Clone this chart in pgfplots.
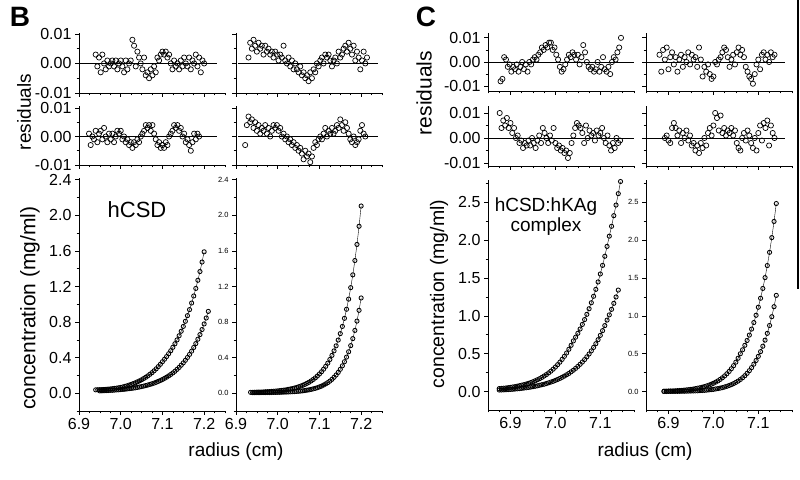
\documentclass[border=0pt]{standalone}
\usepackage{pgfplots}
\pgfplotsset{compat=1.18}
\usepackage{fontspec}
\setmainfont{Liberation Sans}
\begin{document}
\begin{tikzpicture}
\path[use as bounding box] (0pt,0pt) rectangle (800pt,479pt);
\pgfplotsset{
  every axis/.append style={
    scale only axis, width=146pt,
    axis x line*=bottom, axis y line*=left,
    axis line style={line width=0.8pt, black, -},
    every tick/.style={black, line width=0.7pt},
    tick align=outside,
    major tick length=4pt, minor tick length=2.5pt,
    clip=false, anchor=south west,
    scaled x ticks=false, scaled y ticks=false,
    /pgf/number format/assume math mode=true,
    /pgf/number format/fixed, /pgf/number format/fixed zerofill,
  },
  bx/.style={xmin=6.9, xmax=7.25, xtick={6.9,7.0,7.1,7.2}, minor xtick={6.925,6.95,6.975,7.025,7.05,7.075,7.125,7.15,7.175,7.225,7.25}},
  cx/.style={xmin=6.85, xmax=7.175, xtick={6.9,7.0,7.1}, minor xtick={6.85,6.875,6.925,6.95,6.975,7.025,7.05,7.075,7.125,7.15,7.175}},
  res/.style={xticklabels={}, ytick={-0.01,0,0.01}, minor ytick={-0.005,0.005}, yticklabel style={font=\fontsize{16}{16}\selectfont, /pgf/number format/precision=2}},
  resR/.style={xticklabels={}, ytick={-0.01,0,0.01}, minor ytick={-0.005,0.005}, yticklabels={}},
  mainx/.style={xticklabel style={font=\fontsize{16}{16}\selectfont, /pgf/number format/precision=1}},
  mainyL/.style={yticklabel style={font=\fontsize{16}{16}\selectfont, /pgf/number format/precision=1}},
  mainyR/.style={yticklabel style={font=\fontsize{7.5}{7.5}\selectfont, /pgf/number format/precision=1}},
  dot/.style={black, line width=0.7pt, only marks, mark=o, mark size=2.6pt},
  cur/.style={black, line width=0.4pt, mark=o, mark size=2.1pt, mark options={line width=0.85pt}},
  zl/.style={black, line width=0.8pt},
}
% ================= Panel B =================
\begin{axis}[bx,res,at={(79pt,386pt)},height=60pt,ymin=-0.01,ymax=0.0103]
\addplot[zl] coordinates {(6.9,0)(7.23,0)};
\addplot[dot] coordinates {(6.940,0.003)(6.944,-0.001)(6.948,0.002)(6.952,-0.003)(6.956,0.003)(6.960,0.000)(6.964,-0.002)(6.968,0.001)(6.972,-0.001)(6.976,0.000)(6.980,0.001)(6.984,-0.001)(6.988,0.001)(6.992,-0.002)(6.996,0.000)(7.000,0.001)(7.004,-0.001)(7.008,-0.003)(7.012,0.001)(7.016,-0.002)(7.020,0.000)(7.024,0.001)(7.028,0.008)(7.032,0.006)(7.036,-0.001)(7.040,0.004)(7.044,0.002)(7.048,0.000)(7.052,-0.002)(7.056,0.002)(7.060,-0.004)(7.064,-0.003)(7.068,-0.005)(7.072,-0.002)(7.076,-0.004)(7.080,-0.001)(7.084,-0.003)(7.088,0.002)(7.092,0.001)(7.096,0.003)(7.100,0.004)(7.104,0.003)(7.108,0.004)(7.112,0.002)(7.116,0.003)(7.120,0.000)(7.124,-0.002)(7.128,0.001)(7.132,-0.001)(7.136,0.000)(7.140,-0.002)(7.144,0.001)(7.148,-0.001)(7.152,0.002)(7.156,0.000)(7.160,-0.001)(7.164,0.002)(7.168,-0.002)(7.172,0.001)(7.176,0.000)(7.180,0.003)(7.184,-0.001)(7.188,0.002)(7.192,-0.003)(7.196,0.001)(7.200,0.000)};
\end{axis}
\begin{axis}[bx,resR,at={(236pt,386pt)},height=60pt,ymin=-0.01,ymax=0.0103]
\addplot[zl] coordinates {(6.905,0)(7.24,0)};
\addplot[dot] coordinates {(6.930,0.002)(6.934,0.007)(6.938,0.005)(6.942,0.008)(6.946,0.006)(6.950,0.004)(6.954,0.007)(6.958,0.005)(6.962,0.006)(6.966,0.003)(6.970,0.006)(6.974,0.004)(6.978,0.005)(6.982,0.003)(6.986,0.004)(6.990,0.002)(6.994,0.004)(6.998,0.003)(7.002,0.001)(7.006,0.003)(7.010,0.002)(7.014,0.006)(7.018,0.001)(7.022,0.000)(7.026,0.002)(7.030,-0.001)(7.034,0.001)(7.038,-0.002)(7.042,0.000)(7.046,-0.002)(7.050,-0.003)(7.054,-0.001)(7.058,-0.004)(7.062,-0.003)(7.066,-0.005)(7.070,-0.004)(7.074,-0.006)(7.078,-0.003)(7.082,-0.005)(7.086,-0.002)(7.090,-0.003)(7.094,0.000)(7.098,-0.001)(7.102,0.001)(7.106,0.002)(7.110,0.000)(7.114,0.003)(7.118,0.002)(7.122,0.003)(7.126,0.001)(7.130,-0.001)(7.134,0.001)(7.138,0.002)(7.142,0.000)(7.146,0.004)(7.150,0.002)(7.154,0.003)(7.158,0.005)(7.162,0.006)(7.166,0.004)(7.170,0.007)(7.174,0.005)(7.178,0.003)(7.182,0.006)(7.186,0.001)(7.190,0.004)(7.194,0.002)(7.198,-0.002)(7.202,0.001)(7.206,0.004)(7.210,0.000)(7.214,0.002)};
\end{axis}
\begin{axis}[bx,res,at={(79pt,314pt)},height=59pt,ymin=-0.01,ymax=0.0107]
\addplot[zl] coordinates {(6.9,0)(7.23,0)};
\addplot[dot] coordinates {(6.924,0.001)(6.928,-0.003)(6.932,0.000)(6.936,-0.001)(6.940,0.002)(6.944,-0.002)(6.948,0.001)(6.952,0.002)(6.956,-0.001)(6.960,0.003)(6.964,0.000)(6.968,-0.002)(6.972,0.001)(6.976,-0.001)(6.980,0.001)(6.984,-0.002)(6.988,0.000)(6.992,0.002)(6.996,0.001)(7.000,0.002)(7.004,-0.001)(7.008,0.000)(7.012,-0.002)(7.016,-0.001)(7.020,-0.003)(7.024,-0.002)(7.028,-0.004)(7.032,-0.002)(7.036,-0.003)(7.040,-0.001)(7.044,-0.002)(7.048,0.000)(7.052,0.001)(7.056,0.002)(7.060,0.004)(7.064,0.003)(7.068,0.004)(7.072,0.002)(7.076,0.004)(7.080,0.001)(7.084,-0.001)(7.088,-0.003)(7.092,-0.002)(7.096,-0.004)(7.100,-0.003)(7.104,-0.004)(7.108,-0.002)(7.112,-0.003)(7.116,0.000)(7.120,0.001)(7.124,0.002)(7.128,0.004)(7.132,0.003)(7.136,0.004)(7.140,0.002)(7.144,0.003)(7.148,0.000)(7.152,0.001)(7.156,-0.002)(7.160,-0.001)(7.164,-0.003)(7.168,-0.005)(7.172,-0.002)(7.176,0.001)(7.180,-0.001)(7.184,0.001)(7.188,0.000)};
\end{axis}
\begin{axis}[bx,resR,at={(236pt,314pt)},height=59pt,ymin=-0.01,ymax=0.0107]
\addplot[zl] coordinates {(6.905,0)(7.24,0)};
\addplot[dot] coordinates {(6.922,-0.003)(6.926,0.004)(6.930,0.007)(6.934,0.005)(6.938,0.006)(6.942,0.003)(6.946,0.005)(6.950,0.002)(6.954,0.004)(6.958,0.001)(6.962,0.003)(6.966,0.002)(6.970,0.004)(6.974,0.001)(6.978,0.003)(6.982,0.000)(6.986,0.002)(6.990,0.004)(6.994,0.003)(6.998,0.004)(7.002,0.002)(7.006,0.003)(7.010,0.000)(7.014,0.001)(7.018,-0.001)(7.022,0.000)(7.026,-0.002)(7.030,-0.001)(7.034,-0.003)(7.038,-0.002)(7.042,-0.004)(7.046,-0.003)(7.050,-0.005)(7.054,-0.004)(7.058,-0.006)(7.062,-0.008)(7.066,-0.005)(7.070,-0.007)(7.074,-0.006)(7.078,-0.009)(7.082,-0.007)(7.086,-0.004)(7.090,-0.002)(7.094,-0.003)(7.098,-0.001)(7.102,0.000)(7.106,-0.001)(7.110,0.001)(7.114,0.003)(7.118,0.000)(7.122,0.002)(7.126,0.001)(7.130,0.003)(7.134,0.001)(7.138,0.002)(7.142,0.004)(7.146,0.003)(7.150,0.006)(7.154,0.004)(7.158,0.002)(7.162,0.005)(7.166,0.003)(7.170,0.001)(7.174,-0.001)(7.178,-0.002)(7.182,0.000)(7.186,-0.003)(7.190,-0.002)(7.194,-0.001)(7.198,0.002)(7.202,0.004)(7.206,0.001)(7.210,0.000)};
\end{axis}
\begin{axis}[bx,mainx,mainyL,at={(79pt,68pt)},height=233pt,ymin=-0.2,ymax=2.42,ytick={0,0.4,0.8,1.2,1.6,2.0,2.4},minor ytick={-0.2,0.2,0.6,1.0,1.4,1.8,2.2}]
\addplot[cur] coordinates {(6.940,0.038)(6.945,0.039)(6.950,0.040)(6.955,0.041)(6.960,0.042)(6.965,0.044)(6.970,0.046)(6.975,0.048)(6.980,0.051)(6.985,0.054)(6.990,0.057)(6.995,0.061)(7.000,0.065)(7.005,0.070)(7.010,0.077)(7.015,0.083)(7.020,0.091)(7.025,0.099)(7.030,0.108)(7.035,0.117)(7.040,0.128)(7.045,0.139)(7.050,0.151)(7.055,0.165)(7.060,0.179)(7.065,0.195)(7.070,0.213)(7.075,0.231)(7.080,0.252)(7.085,0.274)(7.090,0.299)(7.095,0.325)(7.100,0.354)(7.105,0.382)(7.110,0.412)(7.115,0.444)(7.120,0.478)(7.125,0.516)(7.130,0.556)(7.135,0.599)(7.140,0.646)(7.145,0.697)(7.150,0.751)(7.155,0.809)(7.160,0.872)(7.165,0.940)(7.170,1.014)(7.175,1.093)(7.180,1.178)(7.185,1.270)(7.190,1.368)(7.195,1.475)(7.200,1.590)};
\addplot[cur] coordinates {(6.950,0.026)(6.955,0.027)(6.960,0.028)(6.965,0.029)(6.970,0.030)(6.975,0.032)(6.980,0.033)(6.985,0.035)(6.990,0.037)(6.995,0.038)(7.000,0.041)(7.005,0.043)(7.010,0.045)(7.015,0.048)(7.020,0.051)(7.025,0.054)(7.030,0.057)(7.035,0.061)(7.040,0.065)(7.045,0.070)(7.050,0.075)(7.055,0.080)(7.060,0.086)(7.065,0.092)(7.070,0.099)(7.075,0.106)(7.080,0.114)(7.085,0.123)(7.090,0.133)(7.095,0.143)(7.100,0.154)(7.105,0.167)(7.110,0.180)(7.115,0.195)(7.120,0.211)(7.125,0.228)(7.130,0.247)(7.135,0.268)(7.140,0.290)(7.145,0.315)(7.150,0.341)(7.155,0.370)(7.160,0.402)(7.165,0.436)(7.170,0.473)(7.175,0.514)(7.180,0.558)(7.185,0.607)(7.190,0.659)(7.195,0.716)(7.200,0.779)(7.205,0.846)(7.210,0.920)};
\end{axis}
\begin{axis}[bx,mainx,mainyR,at={(236pt,68pt)},height=233pt,ymin=-0.2,ymax=2.42,ytick={0,0.4,0.8,1.2,1.6,2.0,2.4},minor ytick={-0.2,0.2,0.6,1.0,1.4,1.8,2.2}]
\addplot[cur] coordinates {(6.935,0.010)(6.940,0.010)(6.945,0.011)(6.950,0.012)(6.955,0.013)(6.960,0.013)(6.965,0.014)(6.970,0.016)(6.975,0.017)(6.980,0.018)(6.985,0.020)(6.990,0.022)(6.995,0.024)(7.000,0.026)(7.005,0.029)(7.010,0.032)(7.015,0.035)(7.020,0.038)(7.025,0.043)(7.030,0.047)(7.035,0.052)(7.040,0.058)(7.045,0.064)(7.050,0.072)(7.055,0.080)(7.060,0.089)(7.065,0.099)(7.070,0.111)(7.075,0.123)(7.080,0.138)(7.085,0.154)(7.090,0.172)(7.095,0.193)(7.100,0.216)(7.105,0.241)(7.110,0.270)(7.115,0.302)(7.120,0.338)(7.125,0.379)(7.130,0.425)(7.135,0.476)(7.140,0.533)(7.145,0.598)(7.150,0.670)(7.155,0.751)(7.160,0.842)(7.165,0.944)(7.170,1.058)(7.175,1.187)(7.180,1.331)(7.185,1.492)(7.190,1.673)(7.195,1.877)(7.200,2.105)};
\addplot[cur] coordinates {(6.940,0.006)(6.945,0.006)(6.950,0.006)(6.955,0.006)(6.960,0.007)(6.965,0.007)(6.970,0.007)(6.975,0.008)(6.980,0.008)(6.985,0.008)(6.990,0.009)(6.995,0.009)(7.000,0.010)(7.005,0.010)(7.010,0.011)(7.015,0.012)(7.020,0.013)(7.025,0.014)(7.030,0.015)(7.035,0.017)(7.040,0.018)(7.045,0.020)(7.050,0.022)(7.055,0.024)(7.060,0.027)(7.065,0.030)(7.070,0.034)(7.075,0.038)(7.080,0.043)(7.085,0.049)(7.090,0.055)(7.095,0.062)(7.100,0.071)(7.105,0.080)(7.110,0.092)(7.115,0.105)(7.120,0.119)(7.125,0.136)(7.130,0.156)(7.135,0.179)(7.140,0.205)(7.145,0.234)(7.150,0.269)(7.155,0.308)(7.160,0.354)(7.165,0.406)(7.170,0.466)(7.175,0.535)(7.180,0.614)(7.185,0.706)(7.190,0.811)(7.195,0.932)(7.200,1.071)};
\end{axis}
% ================= Panel C =================
\begin{axis}[cx,res,at={(488pt,388pt)},height=58pt,ymin=-0.012,ymax=0.012]
\addplot[zl] coordinates {(6.85,0)(7.175,0)};
\addplot[dot] coordinates {(6.878,-0.008)(6.882,-0.007)(6.886,0.002)(6.890,0.001)(6.894,-0.002)(6.898,-0.001)(6.902,-0.004)(6.906,-0.002)(6.910,-0.003)(6.914,-0.001)(6.918,-0.004)(6.922,-0.002)(6.926,0.000)(6.930,-0.003)(6.934,-0.001)(6.938,-0.004)(6.942,0.000)(6.946,-0.001)(6.950,0.001)(6.954,0.002)(6.958,0.001)(6.962,0.003)(6.966,0.004)(6.970,0.006)(6.974,0.005)(6.978,0.007)(6.982,0.006)(6.986,0.008)(6.990,0.008)(6.994,0.005)(6.998,0.006)(7.002,0.003)(7.006,0.001)(7.010,-0.002)(7.014,-0.004)(7.018,-0.003)(7.022,-0.001)(7.026,0.001)(7.030,0.003)(7.034,0.002)(7.038,0.004)(7.042,0.003)(7.046,0.001)(7.050,0.003)(7.054,-0.001)(7.058,0.002)(7.062,0.007)(7.066,0.004)(7.070,0.000)(7.074,-0.002)(7.078,-0.003)(7.082,-0.002)(7.086,-0.004)(7.090,-0.003)(7.094,0.000)(7.098,-0.004)(7.102,-0.002)(7.106,0.002)(7.110,-0.003)(7.114,-0.004)(7.118,-0.002)(7.122,-0.005)(7.126,0.000)(7.130,0.002)(7.134,0.001)(7.138,0.004)(7.142,0.006)(7.146,0.010)};
\end{axis}
\begin{axis}[cx,resR,at={(646pt,388pt)},height=58pt,ymin=-0.012,ymax=0.012]
\addplot[zl] coordinates {(6.85,0)(7.16,0)};
\addplot[dot] coordinates {(6.880,0.003)(6.884,-0.004)(6.888,0.005)(6.892,0.001)(6.896,0.006)(6.900,-0.003)(6.904,0.002)(6.908,0.004)(6.912,-0.001)(6.916,0.002)(6.920,-0.004)(6.924,0.001)(6.928,0.003)(6.932,-0.002)(6.936,0.002)(6.940,0.000)(6.944,0.004)(6.948,-0.001)(6.952,0.003)(6.956,0.001)(6.960,0.002)(6.964,-0.002)(6.968,0.006)(6.972,0.001)(6.976,-0.006)(6.980,-0.002)(6.984,-0.004)(6.988,-0.001)(6.992,-0.005)(6.996,-0.007)(7.000,-0.006)(7.004,0.000)(7.008,-0.001)(7.012,0.001)(7.016,0.002)(7.020,0.004)(7.024,0.006)(7.028,0.005)(7.032,0.002)(7.036,-0.002)(7.040,0.001)(7.044,0.003)(7.048,-0.001)(7.052,0.004)(7.056,0.006)(7.060,0.003)(7.064,0.005)(7.068,0.002)(7.072,-0.002)(7.076,-0.004)(7.080,-0.006)(7.084,-0.007)(7.088,-0.009)(7.092,-0.005)(7.096,-0.001)(7.100,0.001)(7.104,-0.003)(7.108,0.003)(7.112,0.004)(7.116,0.001)(7.120,0.003)(7.124,0.000)(7.128,0.004)(7.132,0.002)(7.136,0.003)};
\end{axis}
\begin{axis}[cx,res,at={(488pt,313pt)},height=60pt,ymin=-0.0112,ymax=0.0128]
\addplot[zl] coordinates {(6.85,0)(7.175,0)};
\addplot[dot] coordinates {(6.876,0.010)(6.880,0.004)(6.884,0.007)(6.888,0.005)(6.892,0.008)(6.896,0.004)(6.900,0.006)(6.904,0.002)(6.908,0.004)(6.912,0.000)(6.916,0.001)(6.920,-0.002)(6.924,-0.001)(6.928,-0.004)(6.932,-0.002)(6.936,-0.003)(6.940,-0.001)(6.944,-0.003)(6.948,0.000)(6.952,-0.002)(6.956,-0.004)(6.960,-0.001)(6.964,0.001)(6.968,-0.002)(6.972,0.004)(6.976,0.002)(6.980,0.000)(6.984,-0.002)(6.988,0.001)(6.992,-0.001)(6.996,0.004)(7.000,-0.002)(7.004,-0.004)(7.008,-0.003)(7.012,-0.005)(7.016,-0.004)(7.020,-0.006)(7.024,-0.005)(7.028,-0.008)(7.032,-0.006)(7.036,-0.002)(7.040,0.001)(7.044,0.004)(7.048,0.006)(7.052,0.005)(7.056,0.004)(7.060,0.002)(7.064,-0.002)(7.068,0.005)(7.072,0.000)(7.076,0.003)(7.080,0.001)(7.084,0.002)(7.088,-0.001)(7.092,0.003)(7.096,0.001)(7.100,0.002)(7.104,0.004)(7.108,0.000)(7.112,-0.002)(7.116,0.001)(7.120,-0.003)(7.124,-0.005)(7.128,-0.002)(7.132,-0.004)(7.136,0.000)(7.140,-0.002)(7.144,-0.001)};
\end{axis}
\begin{axis}[cx,resR,at={(646pt,313pt)},height=60pt,ymin=-0.0112,ymax=0.0128]
\addplot[zl] coordinates {(6.85,0)(7.16,0)};
\addplot[dot] coordinates {(6.892,0.000)(6.896,0.001)(6.900,-0.001)(6.904,-0.002)(6.908,0.004)(6.912,0.006)(6.916,0.004)(6.920,0.001)(6.924,0.003)(6.928,-0.002)(6.932,0.002)(6.936,0.000)(6.940,0.003)(6.944,-0.001)(6.948,0.001)(6.952,-0.003)(6.956,-0.002)(6.960,-0.005)(6.964,-0.003)(6.968,-0.006)(6.972,-0.002)(6.976,-0.004)(6.980,0.000)(6.984,-0.003)(6.988,0.002)(6.992,0.004)(6.996,0.001)(7.000,0.005)(7.004,0.010)(7.008,0.008)(7.012,0.003)(7.016,0.009)(7.020,0.002)(7.024,0.004)(7.028,0.001)(7.032,0.003)(7.036,0.002)(7.040,0.004)(7.044,0.001)(7.048,0.003)(7.052,-0.002)(7.056,-0.004)(7.060,-0.005)(7.064,0.000)(7.068,0.002)(7.072,-0.001)(7.076,0.003)(7.080,0.001)(7.084,-0.002)(7.088,-0.004)(7.092,0.000)(7.096,-0.005)(7.100,0.002)(7.104,0.005)(7.108,-0.001)(7.112,0.006)(7.116,0.004)(7.120,0.007)(7.124,-0.003)(7.128,0.005)(7.132,0.002)(7.136,0.000)};
\end{axis}
\begin{axis}[cx,mainx,mainyL,at={(488pt,69pt)},height=230pt,ymin=-0.24,ymax=2.79,ytick={0,0.5,1.0,1.5,2.0,2.5},minor ytick={0.25,0.75,1.25,1.75,2.25,2.75}]
\addplot[cur] coordinates {(6.875,0.042)(6.880,0.044)(6.885,0.047)(6.890,0.050)(6.895,0.054)(6.900,0.058)(6.905,0.063)(6.910,0.068)(6.915,0.074)(6.920,0.080)(6.925,0.087)(6.930,0.094)(6.935,0.102)(6.940,0.111)(6.945,0.121)(6.950,0.132)(6.955,0.145)(6.960,0.159)(6.965,0.173)(6.970,0.190)(6.975,0.208)(6.980,0.227)(6.985,0.249)(6.990,0.272)(6.995,0.298)(7.000,0.326)(7.005,0.357)(7.010,0.390)(7.015,0.427)(7.020,0.467)(7.025,0.511)(7.030,0.560)(7.035,0.612)(7.040,0.670)(7.045,0.719)(7.050,0.771)(7.055,0.827)(7.060,0.887)(7.065,0.951)(7.070,1.020)(7.075,1.094)(7.080,1.173)(7.085,1.258)(7.090,1.349)(7.095,1.447)(7.100,1.552)(7.105,1.665)(7.110,1.785)(7.115,1.915)(7.120,2.050)(7.125,2.180)(7.130,2.320)(7.135,2.460)(7.140,2.610)(7.145,2.770)};
\addplot[cur] coordinates {(6.875,0.023)(6.880,0.024)(6.885,0.025)(6.890,0.027)(6.895,0.029)(6.900,0.031)(6.905,0.033)(6.910,0.036)(6.915,0.039)(6.920,0.042)(6.925,0.045)(6.930,0.049)(6.935,0.053)(6.940,0.057)(6.945,0.062)(6.950,0.067)(6.955,0.073)(6.960,0.079)(6.965,0.086)(6.970,0.093)(6.975,0.100)(6.980,0.109)(6.985,0.118)(6.990,0.128)(6.995,0.138)(7.000,0.150)(7.005,0.162)(7.010,0.176)(7.015,0.191)(7.020,0.207)(7.025,0.224)(7.030,0.242)(7.035,0.263)(7.040,0.284)(7.045,0.308)(7.050,0.334)(7.055,0.362)(7.060,0.392)(7.065,0.424)(7.070,0.460)(7.075,0.498)(7.080,0.539)(7.085,0.584)(7.090,0.633)(7.095,0.686)(7.100,0.743)(7.105,0.805)(7.110,0.872)(7.115,0.944)(7.120,1.013)(7.125,1.086)(7.130,1.165)(7.135,1.249)(7.140,1.340)};
\end{axis}
\begin{axis}[cx,mainx,mainyR,at={(646pt,69pt)},height=230pt,ymin=-0.24,ymax=2.79,ytick={0,0.5,1.0,1.5,2.0,2.5},minor ytick={0.25,0.75,1.25,1.75,2.25,2.75}]
\addplot[cur] coordinates {(6.890,0.008)(6.895,0.009)(6.900,0.010)(6.905,0.011)(6.910,0.012)(6.915,0.013)(6.920,0.015)(6.925,0.017)(6.930,0.019)(6.935,0.022)(6.940,0.025)(6.945,0.028)(6.950,0.032)(6.955,0.036)(6.960,0.041)(6.965,0.047)(6.970,0.053)(6.975,0.060)(6.980,0.068)(6.985,0.077)(6.990,0.087)(6.995,0.099)(7.000,0.112)(7.005,0.127)(7.010,0.143)(7.015,0.163)(7.020,0.184)(7.025,0.209)(7.030,0.237)(7.035,0.268)(7.040,0.304)(7.045,0.344)(7.050,0.390)(7.055,0.442)(7.060,0.501)(7.065,0.553)(7.070,0.612)(7.075,0.676)(7.080,0.747)(7.085,0.826)(7.090,0.912)(7.095,1.008)(7.100,1.114)(7.105,1.232)(7.110,1.361)(7.115,1.504)(7.120,1.663)(7.125,1.837)(7.130,2.031)(7.135,2.244)(7.140,2.480)};
\addplot[cur] coordinates {(6.890,0.004)(6.895,0.004)(6.900,0.005)(6.905,0.005)(6.910,0.005)(6.915,0.005)(6.920,0.006)(6.925,0.006)(6.930,0.007)(6.935,0.007)(6.940,0.008)(6.945,0.009)(6.950,0.010)(6.955,0.011)(6.960,0.012)(6.965,0.013)(6.970,0.015)(6.975,0.017)(6.980,0.019)(6.985,0.022)(6.990,0.025)(6.995,0.028)(7.000,0.032)(7.005,0.037)(7.010,0.042)(7.015,0.048)(7.020,0.055)(7.025,0.063)(7.030,0.072)(7.035,0.083)(7.040,0.094)(7.045,0.108)(7.050,0.124)(7.055,0.141)(7.060,0.162)(7.065,0.185)(7.070,0.212)(7.075,0.243)(7.080,0.278)(7.085,0.318)(7.090,0.364)(7.095,0.412)(7.100,0.467)(7.105,0.529)(7.110,0.600)(7.115,0.680)(7.120,0.770)(7.125,0.873)(7.130,0.989)(7.135,1.121)(7.140,1.270)};
\end{axis}
% ================= texts =================
\node[font=\fontsize{28}{28}\selectfont\bfseries] at (20pt,462pt) {B};
\node[font=\fontsize{28}{28}\selectfont\bfseries] at (426pt,462pt) {C};
\node[rotate=90,font=\fontsize{19}{19}\selectfont] at (24pt,367pt) {residuals};
\node[rotate=90,font=\fontsize{21}{21}\selectfont] at (424pt,386pt) {residuals};
\node[rotate=90,font=\fontsize{21}{21}\selectfont] at (30pt,171pt) {concentration (mg/ml)};
\node[rotate=90,font=\fontsize{19.5}{19.5}\selectfont] at (439pt,185pt) {concentration (mg/ml)};
\node[font=\fontsize{19}{19}\selectfont] at (236pt,27pt) {radius (cm)};
\node[font=\fontsize{19}{19}\selectfont] at (645pt,27pt) {radius (cm)};
\node[font=\fontsize{22}{22}\selectfont] at (137pt,269pt) {hCSD};
\node[font=\fontsize{19}{20}\selectfont,align=center] at (546pt,262pt) {hCSD:hKAg\\complex};
\draw[line width=1.5pt] (798pt,479pt) -- (798pt,190pt);
\end{tikzpicture}
\end{document}
